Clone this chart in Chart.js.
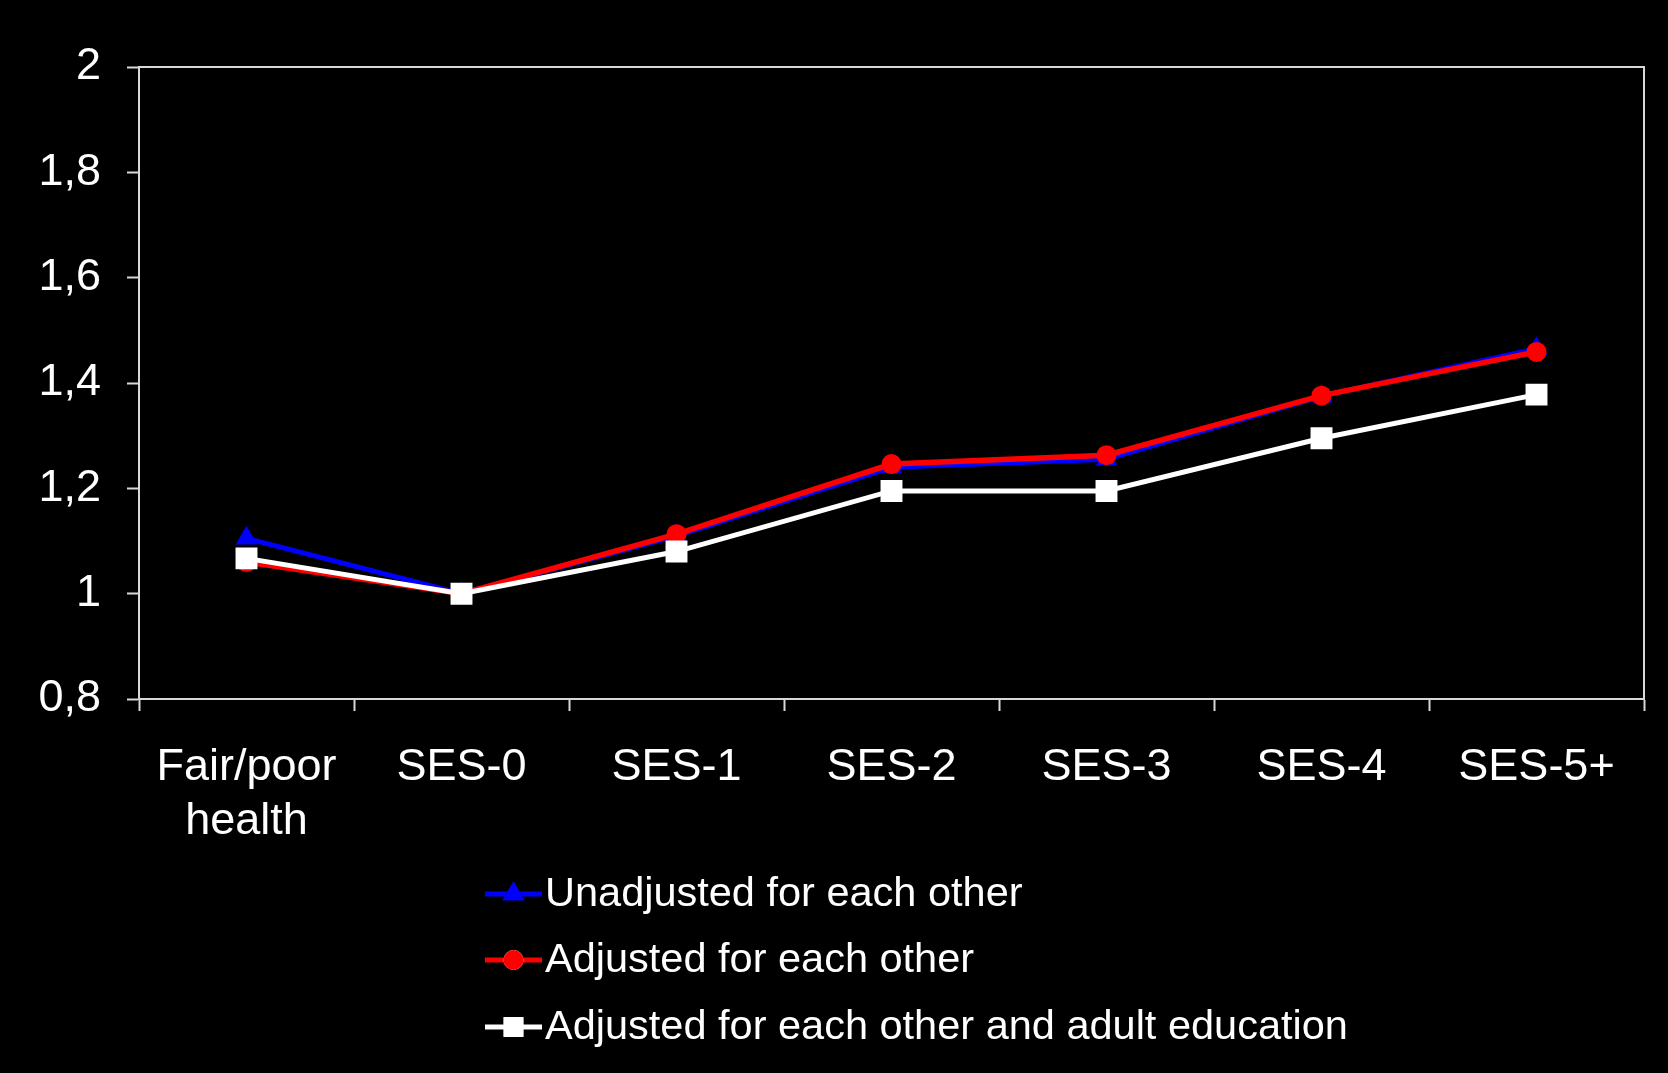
<!DOCTYPE html>
<html>
<head>
<meta charset="utf-8">
<script src="https://cdn.jsdelivr.net/npm/chart.js@4/dist/chart.umd.min.js"></script>
<style>
  html, body { margin: 0; padding: 0; background: #000; }
  #wrap { width: 1668px; height: 1073px; position: relative; }
</style>
</head>
<body>
<div id="wrap"><canvas id="chart"></canvas></div>
<script>
// Categories along the x axis
const categories = [['Fair/poor', 'health'], 'SES-0', 'SES-1', 'SES-2', 'SES-3', 'SES-4', 'SES-5+'];

// Series values (odds ratios)
const unadjusted  = [1.105, 1.00, 1.11, 1.24, 1.255, 1.375, 1.465];
const adjusted    = [1.06, 1.00, 1.113, 1.246, 1.263, 1.376, 1.459];
const adjustedEdu = [1.067, 1.00, 1.08, 1.195, 1.195, 1.295, 1.378];

// Series names
const seriesNames = [
  'Unadjusted for each other',
  'Adjusted for each other',
  'Adjusted for each other and adult education'
];

// Y tick labels (decimal comma)
const yTickValues = [0.8, 1.0, 1.2, 1.4, 1.6, 1.8, 2.0];
const yTickLabels = ['0,8', '1', '1,2', '1,4', '1,6', '1,8', '2'];

const FONT = '"Liberation Sans", Arial, sans-serif';
const AXIS_COLOR = '#d8d8d8';

// Box around the plotting area
const framePlugin = {
  id: 'frame',
  afterDatasetsDraw(chart) {
    const { ctx, chartArea: a } = chart;
    ctx.save();
    ctx.strokeStyle = AXIS_COLOR;
    ctx.lineWidth = 2;
    ctx.beginPath();
    ctx.moveTo(a.left, a.top);
    ctx.lineTo(a.right, a.top);
    ctx.lineTo(a.right, a.bottom);
    ctx.stroke();
    ctx.restore();
  }
};

// Stacked legend: line with marker, then label, one row per series
const stackedLegend = {
  id: 'stackedLegend',
  afterDraw(chart) {
    const { ctx } = chart;
    const x0 = 485, x1 = 542, textX = 545;
    const rows = [894, 960, 1027];
    ctx.save();
    chart.data.datasets.forEach((ds, i) => {
      const y = rows[i];
      ctx.strokeStyle = ds.borderColor;
      ctx.lineWidth = 5;
      ctx.beginPath();
      ctx.moveTo(x0, y);
      ctx.lineTo(x1, y);
      ctx.stroke();
      const r = ds.legendRadius;
      Chart.helpers.drawPoint(ctx, {
        pointStyle: ds.pointStyle,
        radius: r,
        rotation: 0,
        borderWidth: 0
      }, (x0 + x1) / 2, y);
      ctx.fillStyle = ds.pointBackgroundColor;
      ctx.fill();
      ctx.fillStyle = '#ffffff';
      ctx.font = '41.5px ' + FONT;
      ctx.textAlign = 'left';
      ctx.textBaseline = 'middle';
      ctx.fillText(ds.label, textX, y + 1);
    });
    ctx.restore();
  }
};

new Chart(document.getElementById('chart'), {
  type: 'line',
  data: {
    labels: categories,
    datasets: [
      {
        label: seriesNames[0],
        data: unadjusted,
        borderColor: '#0000ff',
        backgroundColor: '#0000ff',
        pointBackgroundColor: '#0000ff',
        pointBorderWidth: 0,
        pointStyle: 'triangle',
        pointRadius: 12.5,
        legendRadius: 13,
        borderWidth: 5,
        order: 3
      },
      {
        label: seriesNames[1],
        data: adjusted,
        borderColor: '#ff0000',
        backgroundColor: '#ff0000',
        pointBackgroundColor: '#ff0000',
        pointBorderWidth: 0,
        pointStyle: 'circle',
        pointRadius: 10,
        legendRadius: 10,
        borderWidth: 5.5,
        order: 2
      },
      {
        label: seriesNames[2],
        data: adjustedEdu,
        borderColor: '#ffffff',
        backgroundColor: '#ffffff',
        pointBackgroundColor: '#ffffff',
        pointBorderWidth: 0,
        pointStyle: 'rect',
        pointRadius: 15.5,
        legendRadius: 14,
        borderWidth: 5,
        order: 1
      }
    ]
  },
  options: {
    responsive: true,
    maintainAspectRatio: false,
    animation: false,
    events: [],
    layout: { padding: { top: 67, right: 24, left: 0, bottom: 0 } },
    plugins: {
      legend: { display: false },
      tooltip: { enabled: false }
    },
    elements: { line: { tension: 0 } },
    scales: {
      x: {
        offset: true,
        grid: {
          offset: true,
          drawOnChartArea: false,
          drawTicks: true,
          tickLength: 12,
          tickWidth: 2,
          color: AXIS_COLOR
        },
        border: { display: true, color: AXIS_COLOR, width: 2 },
        ticks: {
          color: '#ffffff',
          font: { family: FONT, size: 45 },
          padding: 30,
          maxRotation: 0,
          autoSkip: false
        },
        afterFit(scale) { scale.height = 374; }
      },
      y: {
        min: 0.8,
        max: 2.0,
        afterBuildTicks(scale) {
          scale.ticks = yTickValues.map(v => ({ value: v }));
        },
        grid: {
          drawOnChartArea: false,
          drawTicks: true,
          tickLength: 12,
          tickWidth: 2,
          color: AXIS_COLOR
        },
        border: { display: true, color: AXIS_COLOR, width: 2 },
        ticks: {
          color: '#ffffff',
          font: { family: FONT, size: 45 },
          padding: 26,
          callback(value, index) { return yTickLabels[index]; }
        },
        afterFit(scale) { scale.width = 139; }
      }
    }
  },
  plugins: [framePlugin, stackedLegend]
});
</script>
</body>
</html>
